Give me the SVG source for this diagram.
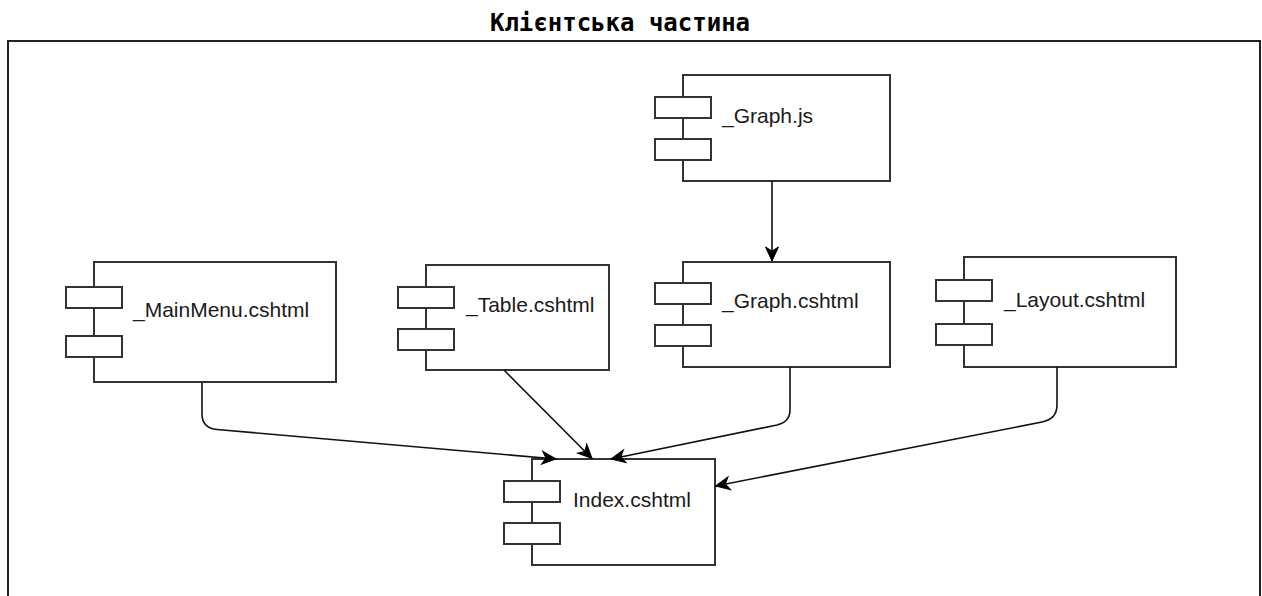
<svg xmlns="http://www.w3.org/2000/svg" width="1262" height="596" viewBox="0 0 1262 596">
  <style>
    .frame { fill: #ffffff; stroke: #222222; stroke-width: 2; }
    .title { font-family: "DejaVu Sans Mono", "Liberation Mono", monospace; font-weight: bold; font-size: 24px; fill: #000000; }
    .body { fill: #ffffff; stroke: #333333; stroke-width: 2; }
    .port { fill: #ffffff; stroke: #333333; stroke-width: 2; }
    .label { font-family: "Liberation Sans", Arial, sans-serif; font-size: 21px; fill: #1a1a1a; }
    .edge { fill: none; stroke: #111111; stroke-width: 1.6; }
  </style>
  <defs>
    <marker id="arrow" viewBox="-16 -9 17 18" refX="0" refY="0" markerWidth="17" markerHeight="18" markerUnits="userSpaceOnUse" orient="auto">
      <path d="M0,0 L-14,-6.5 L-10,0 L-14,6.5 Z" fill="#000000" stroke="#000000" stroke-width="1" stroke-linejoin="miter"/>
    </marker>
  </defs>

  <rect width="1262" height="596" fill="#ffffff"/>

  <!-- container frame with its heading -->
  <g id="client-frame">
    <rect class="frame" x="8" y="41" width="1252" height="570"/>
    <text class="title" x="620" y="31" text-anchor="middle">Клієнтська частина</text>
  </g>

  <!-- components -->
  <g id="graph-js">
    <rect class="body" x="683" y="75" width="207" height="106"/>
    <rect class="port" x="655" y="97" width="56" height="21"/>
    <rect class="port" x="655" y="139" width="56" height="21"/>
    <text class="label" x="722" y="123">_Graph.js</text>
  </g>

  <g id="main-menu">
    <rect class="body" x="94" y="262" width="242" height="120"/>
    <rect class="port" x="66" y="287" width="56" height="21"/>
    <rect class="port" x="66" y="336" width="56" height="21"/>
    <text class="label" x="133" y="317">_MainMenu.cshtml</text>
  </g>

  <g id="table">
    <rect class="body" x="426" y="265" width="183" height="105"/>
    <rect class="port" x="398" y="287" width="56" height="21"/>
    <rect class="port" x="398" y="329" width="56" height="21"/>
    <text class="label" x="466" y="312">_Table.cshtml</text>
  </g>

  <g id="graph-cshtml">
    <rect class="body" x="683" y="262" width="207" height="105"/>
    <rect class="port" x="655" y="283" width="56" height="21"/>
    <rect class="port" x="655" y="325" width="56" height="21"/>
    <text class="label" x="722" y="308">_Graph.cshtml</text>
  </g>

  <g id="layout">
    <rect class="body" x="964" y="257" width="212" height="110"/>
    <rect class="port" x="936" y="280" width="56" height="21"/>
    <rect class="port" x="936" y="324" width="56" height="21"/>
    <text class="label" x="1004" y="307">_Layout.cshtml</text>
  </g>

  <g id="index">
    <rect class="body" x="532" y="459" width="183" height="106"/>
    <rect class="port" x="504" y="481" width="56" height="21"/>
    <rect class="port" x="504" y="523" width="56" height="21"/>
    <text class="label" x="573" y="507">Index.cshtml</text>
  </g>

  <!-- dependencies -->
  <g id="connectors">
    <path class="edge" d="M772,181 L772,261" marker-end="url(#arrow)"/>
    <path class="edge" d="M202,383 L202,414 Q202,428 217,429.5 L556,459" marker-end="url(#arrow)"/>
    <path class="edge" d="M504,370 L592,458.5" marker-end="url(#arrow)"/>
    <path class="edge" d="M790,367 L790,410 Q790,422 777,425 L611,459" marker-end="url(#arrow)"/>
    <path class="edge" d="M1057,367 L1057,405 Q1057,419 1042,422 L715.5,486" marker-end="url(#arrow)"/>
  </g>
</svg>
